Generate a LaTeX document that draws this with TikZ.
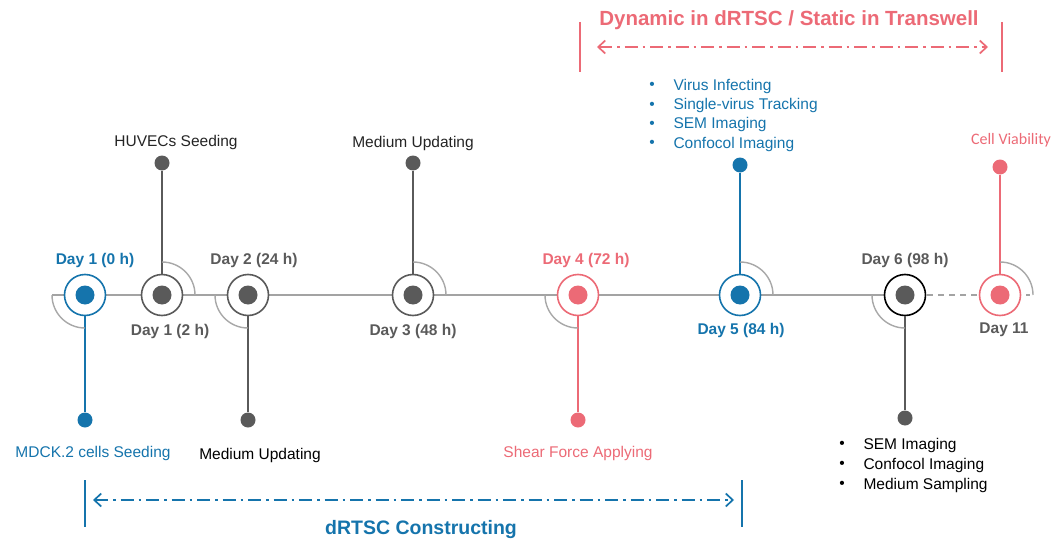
\documentclass[tikz,border=0pt]{standalone}
\usepackage{fontspec}
\setmainfont{Liberation Sans}
\newfontfamily\calibrilike{Carlito}
\usepackage{xcolor}
\usepackage{tikz}
\usetikzlibrary{arrows.meta,backgrounds}
\definecolor{DayBlue}{HTML}{1574AC}
\definecolor{DayPink}{HTML}{EC6A76}
\definecolor{DayGray}{HTML}{5A5A5A}
\definecolor{ArcGray}{HTML}{A8A8A8}
\definecolor{AxisGray}{HTML}{A3A3A3}

\begin{document}
\begin{tikzpicture}[x=1pt,y=1pt,
		ring/.style={circle, draw, fill=white, line width=1.6pt, minimum size=41pt, inner sep=0pt},
		core/.style={circle, minimum size=19pt, inner sep=0pt},
		tipdot/.style={circle, minimum size=15pt, inner sep=0pt},
		daylabel/.style={font=\fontsize{15.5}{18}\selectfont\bfseries},
		actlabel/.style={font=\fontsize{15.5}{18}\selectfont},
		bracket/.style={line width=2pt},
		span/.style={line width=1.7pt, dash pattern=on 13pt off 5pt on 2.5pt off 5pt,
			{Straight Barb[length=7pt,width=13pt]}-{Straight Barb[length=7pt,width=13pt]}}]
				\useasboundingbox (0,0) rectangle (1054,542);

				% rings, stems and end dots
				\foreach \name/\x/\col/\edge/\tipy/\arc in {
					d1/85/DayBlue/DayBlue/122/180,
					d1b/162/DayGray/DayGray/379/0,
					d2/248/DayGray/DayGray/122/180,
					d3/413/DayGray/DayGray/379/0,
					d4/578/DayPink/DayPink/122/180,
					d5/740/DayBlue/DayBlue/377/0,
					d6/905/DayGray/black/124/180,
					d11/1000/DayPink/DayPink/375/0} {
					\node[ring, draw=\edge] (\name) at (\x,247) {};
					\node[core, fill=\col] (\name core) at (\name) {};
					\node[tipdot, fill=\col] (\name tip) at (\x,\tipy) {};
					\draw[line width=1.5pt, \col] (\name) -- (\name tip);
					\draw[ArcGray, line width=1.4pt] (\name.center) ++(\arc:33) arc[start angle=\arc, delta angle=90, radius=33];
				}

				% time axis
				\coordinate (axis start) at (52,247);
				\coordinate (axis end) at (1030,247);
				\begin{scope}[on background layer]
					\draw[AxisGray, line width=1.5pt] (axis start) -- (d6.center);
					\draw[AxisGray, line width=1.5pt, dash pattern=on 6pt off 5pt] (d6.center) -- (axis end);
				\end{scope}

				% day labels
				\foreach \x/\y/\col/\text in {
					95/282/DayBlue/{Day 1 (0 h)},
					170/211/DayGray/{Day 1 (2 h)},
					254/282/DayGray/{Day 2 (24 h)},
					413/211/DayGray/{Day 3 (48 h)},
					586/282/DayPink/{Day 4 (72 h)},
					741/212/DayBlue/{Day 5 (84 h)},
					905/282/DayGray/{Day 6 (98 h)},
					1004/212/DayGray/{Day 11}} {
					\node[daylabel, text=\col] at (\x,\y) {\text};
				}

				% what happens on each day
				\node[actlabel, text=DayGray!40!black] (huvec) at (176,400) {HUVECs Seeding};
				\node[actlabel, text=DayGray!40!black] (update top) at (413,399) {Medium Updating};
				\node[actlabel, text=DayBlue] (mdck) at (93,89) {MDCK.2 cells Seeding};
				\node[actlabel, text=black] (update bottom) at (260,87) {Medium Updating};
				\node[actlabel, text=DayPink] (shear) at (578,89) {Shear Force Applying};
				\node[font=\calibrilike\fontsize{16}{19}\selectfont, text=DayPink] (viability) at (1011,402) {Cell Viability};

				\foreach \item [count=\i] in {Virus Infecting, Single-virus Tracking, SEM Imaging, Confocol Imaging} {
					\node[actlabel, text=DayBlue] (blue bullet \i) at (652,475-19.3*\i) {\textbullet};
					\node[actlabel, text=DayBlue, anchor=west] (blue item \i) at (670,475-19.3*\i) {\item};
				}
				\foreach \item [count=\i] in {SEM Imaging, Confocol Imaging, Medium Sampling} {
					\node[actlabel] (black bullet \i) at (842,117-20*\i) {\textbullet};
					\node[actlabel, anchor=west] (black item \i) at (860,117-20*\i) {\item};
				}

				% spans
				\coordinate (dyn left) at (580,495);
				\coordinate (dyn right) at (1002,495);
				\draw[bracket, DayPink] (dyn left) ++(0,25) -- ++(0,-50);
				\draw[bracket, DayPink] (dyn right) ++(0,25) -- ++(0,-50);
				\draw[span, DayPink] ([xshift=17pt]dyn left) -- ([xshift=-14pt]dyn right);
				\node[font=\fontsize{20.5}{24}\selectfont\bfseries, text=DayPink] (dyn title) at (789,522) {Dynamic in dRTSC / Static in Transwell};

				\coordinate (build left) at (85,42);
				\coordinate (build right) at (742,42);
				\draw[bracket, DayBlue] (build left) ++(0,20) -- ++(0,-47);
				\draw[bracket, DayBlue] (build right) ++(0,20) -- ++(0,-47);
				\draw[span, DayBlue] ([xshift=8pt]build left) -- ([xshift=-8pt]build right);
				\node[font=\fontsize{19.5}{22}\selectfont\bfseries, text=DayBlue] (build title) at (421,13) {dRTSC Constructing};
\end{tikzpicture}
\end{document}
